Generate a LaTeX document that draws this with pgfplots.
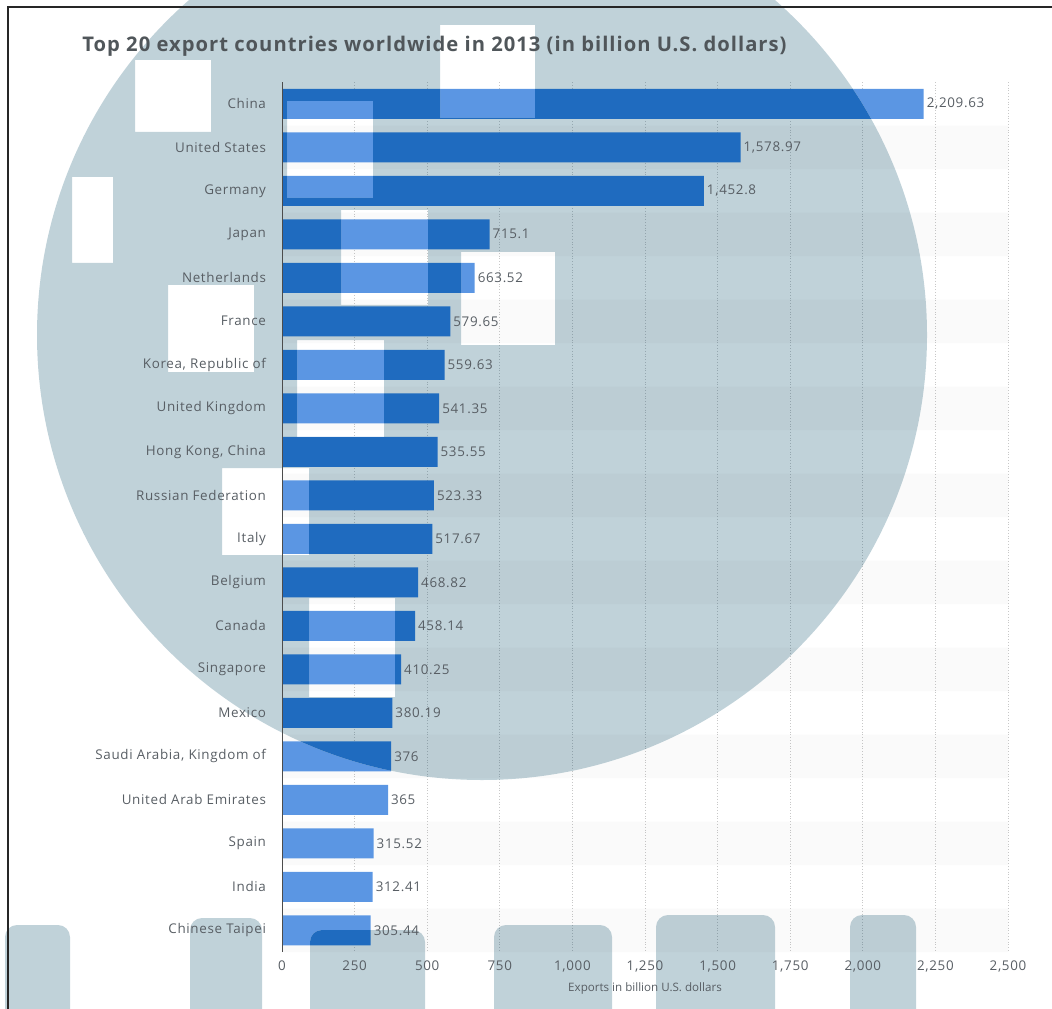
\documentclass[border=0pt]{standalone}
\usepackage{fontspec}
\setmainfont{Open Sans}
\newfontfamily\lbl[LetterSpace=5]{Open Sans}
\usepackage{pgfplots}
\pgfplotsset{compat=1.18}
\usepackage{pgfplotstable}

\definecolor{barlight}{RGB}{91,150,227}
\definecolor{bardark}{RGB}{31,107,191}
\definecolor{ovlcol}{RGB}{192,210,217}
\definecolor{txt}{RGB}{88,94,100}
\definecolor{ttl}{RGB}{80,86,90}
\definecolor{gridA}{RGB}{200,200,200}
\definecolor{gridB}{RGB}{150,168,176}

\pgfplotstableread{
idx value
0 2209.63
1 1578.97
2 1452.8
3 715.1
4 663.52
5 579.65
6 559.63
7 541.35
8 535.55
9 523.33
10 517.67
11 468.82
12 458.14
13 410.25
14 380.19
15 376
16 365
17 315.52
18 312.41
19 305.44
}\exports

\pgfplotsset{
  base/.style={
    at={(141pt,28pt)}, anchor=south west,
    scale only axis, width=363pt, height=435pt,
    xmin=0, xmax=2500, ymin=-0.5, ymax=19.5, y dir=reverse,
    xtick={0,250,...,2500}, ytick={0,...,19},
    axis line style={draw=none}, major tick length=0pt,
  },
  notext/.style={xticklabels={}, yticklabels={}},
}

\newcommand{\lblfont}{\lbl\fontsize{6.7}{7.8}\selectfont}
\newcommand{\blob}[3]{(#1pt,-5pt) -- (#1pt,#3pt-6pt) arc[start angle=180, end angle=90, radius=6pt] -- (#2pt-6pt,#3pt) arc[start angle=90, end angle=0, radius=6pt] -- (#2pt,-5pt) -- cycle}

\begin{document}
\begin{tikzpicture}
\useasboundingbox (0,0) rectangle (526pt,504pt);

% layer A: white area
\begin{axis}[base, notext, xmajorgrids, grid style={densely dotted, gridA}]
  \addplot[xbar, bar width=21.75pt, bar shift=0pt, fill=black, fill opacity=0.02, draw=none, forget plot]
    coordinates {(2500,1) (2500,3) (2500,5) (2500,7) (2500,9) (2500,11) (2500,13) (2500,15) (2500,17) (2500,19)};
  \addplot[xbar, bar width=15pt, bar shift=0pt, fill=barlight, draw=none]
    table[x=value, y=idx] {\exports};
\end{axis}

% layer B: overlay region
\begin{scope}[even odd rule]
  \clip (241pt,336.5pt) circle (222.5pt)
    \blob{2.5}{35}{41.5}
    \blob{95}{131}{45}
    \blob{155}{212.5}{39}
    \blob{247}{306}{41.5}
    \blob{328}{387.5}{46.5}
    \blob{425}{458}{46.5}
    (67.5pt,438pt) rectangle (105.5pt,474pt)
    (36pt,372.5pt) rectangle (56.5pt,415.5pt)
    (84pt,318pt) rectangle (127pt,361.5pt)
    (143.5pt,405pt) rectangle (186.5pt,453.5pt)
    (170.5pt,351.5pt) rectangle (214pt,399pt)
    (230.5pt,331.5pt) rectangle (277.5pt,378pt)
    (220pt,445pt) rectangle (267.5pt,491.5pt)
    (148.5pt,285.5pt) rectangle (192pt,334pt)
    (111pt,226.5pt) rectangle (154.5pt,270pt)
    (154.5pt,155.5pt) rectangle (197.5pt,205pt);
  \fill[ovlcol] (-5pt,-5pt) rectangle (530pt,510pt);
  \begin{axis}[base, notext, xmajorgrids, grid style={densely dotted, gridB}]
    \addplot[xbar, bar width=21.75pt, bar shift=0pt, fill=black, fill opacity=0.02, draw=none, forget plot]
      coordinates {(2500,1) (2500,3) (2500,5) (2500,7) (2500,9) (2500,11) (2500,13) (2500,15) (2500,17) (2500,19)};
    \addplot[xbar, bar width=15pt, bar shift=0pt, fill=bardark, draw=none]
      table[x=value, y=idx] {\exports};
  \end{axis}
\end{scope}

% layer C: text and axis line
\begin{axis}[base,
  yticklabels={China, United States, Germany, Japan, Netherlands, France, {Korea, Republic of}, United Kingdom, {Hong Kong, China}, Russian Federation, Italy, Belgium, Canada, Singapore, Mexico, {Saudi Arabia, Kingdom of}, United Arab Emirates, Spain, India, Chinese Taipei},
  yticklabel style={font=\lblfont, text=txt, xshift=-4.5pt},
  xticklabel style={font=\lblfont, text=txt, yshift=-1pt},
  /pgf/number format/fixed, /pgf/number format/precision=2,
  /pgf/number format/1000 sep={,}, /pgf/number format/assume math mode=true,
  xlabel={Exports in billion U.S. dollars},
  xlabel style={font=\fontsize{5.8}{7}\selectfont, text=txt, yshift=2pt},
  nodes near coords, point meta=x,
  every node near coord/.append style={font=\lblfont, text=txt, anchor=west, xshift=-2pt},
]
  \addplot[xbar, bar width=15pt, bar shift=0pt, draw=none, fill=none]
    table[x=value, y=idx] {\exports};
  \draw[line width=1pt, black!70] (rel axis cs:0,0) -- (rel axis cs:0,1);
\end{axis}

\node[anchor=base west, inner sep=0pt, font=\lbl\bfseries\fontsize{10.1}{11}\selectfont, text=ttl] at (41pt,478pt)
  {Top 20 export countries worldwide in 2013 (in billion U.S. dollars)};

\draw[line width=1pt, black!85] (4pt,-2pt) -- (4pt,500.5pt) -- (530pt,500.5pt);
\end{tikzpicture}
\end{document}
